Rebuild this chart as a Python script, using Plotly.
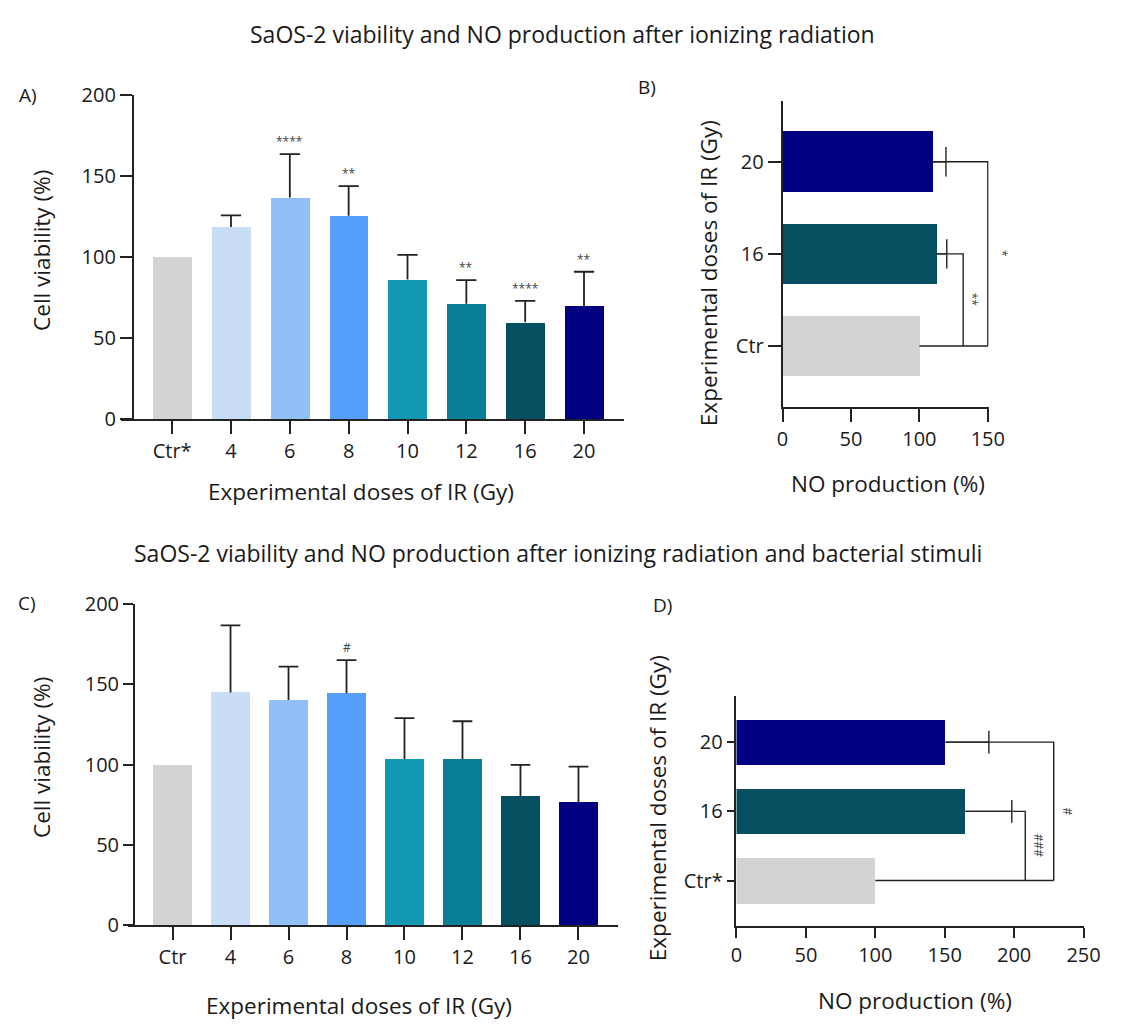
import plotly.graph_objects as go

W, H = 1128, 1034

# ---------------- data ----------------
A_cats = ["Ctr*", "4", "6", "8", "10", "12", "16", "20"]
A_vals = [100, 118.5, 136.7, 125.5, 86.1, 71.1, 59.7, 69.7]
A_err = [0, 7.2, 26.7, 18.2, 15.2, 14.6, 13.2, 21.2]
A_sig = ["", "", "****", "**", "", "**", "****", "**"]

B_cats = ["Ctr", "16", "20"]
B_vals = [100, 112.5, 109.7]
B_err = [0, 7.5, 9.7]
B_bracket_pos = [0, 132, 150]      # bracket x for (Ctr, 16 vs Ctr, 20 vs Ctr)
B_sig = ["", "**", "*"]

C_cats = ["Ctr", "4", "6", "8", "10", "12", "16", "20"]
C_vals = [99.5, 144.9, 140.2, 144.5, 103.5, 103.5, 80.1, 76.4]
C_err = [0, 41.9, 20.9, 20.6, 25.4, 23.5, 19.7, 22.3]
C_sig = ["", "", "", "#", "", "", "", ""]

D_cats = ["Ctr*", "16", "20"]
D_vals = [100, 164.9, 150.5]
D_err = [0, 33.4, 31.3]
D_bracket_pos = [0, 208, 228.5]
D_sig = ["", "###", "#"]

COL8 = ["#d3d3d3", "#c9ddf7", "#93bff9", "#56a0fc", "#1199b3", "#087f96", "#064f61", "#020080"]
COL3 = ["#d3d3d3", "#064f61", "#020080"]

FONT = "Open Sans"
TXT = "#1a1a1a"
LINE = "#222222"


def fx(px):
    return px / W


def fy(py):
    return 1 - py / H


fig = go.Figure()


def vbars(vals, errs, cols, xa, ya, cap):
    n = len(vals)
    fig.add_trace(go.Bar(x=list(range(n)), y=vals, width=0.66, marker=dict(color=cols, line=dict(width=0)),
                         xaxis=xa, yaxis=ya, showlegend=False))
    ex, ey = [], []
    for i, (v, e) in enumerate(zip(vals, errs)):
        if e > 0:
            ex += [i, i, None, i - cap, i + cap, None]
            ey += [v, v + e, None, v + e, v + e, None]
    fig.add_trace(go.Scatter(x=ex, y=ey, mode="lines", line=dict(color=LINE, width=1.8),
                             xaxis=xa, yaxis=ya, showlegend=False, hoverinfo="skip"))


def hbars(vals, errs, cols, xa, ya, cap, brackets):
    n = len(vals)
    fig.add_trace(go.Bar(y=list(range(n)), x=vals, width=0.66, orientation="h",
                         marker=dict(color=cols, line=dict(width=0)),
                         xaxis=xa, yaxis=ya, showlegend=False))
    ex, ey = [], []
    for i, (v, e) in enumerate(zip(vals, errs)):
        if e > 0:
            ex += [v, v + e, None, v + e, v + e, None]
            ey += [i, i, None, i - cap, i + cap, None]
    fig.add_trace(go.Scatter(x=ex, y=ey, mode="lines", line=dict(color=LINE, width=1.4),
                             xaxis=xa, yaxis=ya, showlegend=False, hoverinfo="skip"))
    bx, by = [], []
    for i in range(1, n):
        bx += [vals[i], brackets[i], brackets[i], None]
        by += [i, i, 0, None]
    bx += [vals[0], max(brackets)]
    by += [0, 0]
    fig.add_trace(go.Scatter(x=bx, y=by, mode="lines", line=dict(color=LINE, width=1.4),
                             xaxis=xa, yaxis=ya, showlegend=False, hoverinfo="skip"))


vbars(A_vals, A_err, COL8, "x", "y", 0.172)
hbars(B_vals, B_err, COL3, "x2", "y2", 0.16, B_bracket_pos)
vbars(C_vals, C_err, COL8, "x3", "y3", 0.17)
hbars(D_vals, D_err, COL3, "x4", "y4", 0.165, D_bracket_pos)

ax_common = dict(showline=True, linewidth=1.6, linecolor=LINE, ticks="outside", tickwidth=1.6,
                 tickcolor=LINE, showgrid=False, zeroline=False,
                 tickfont=dict(family=FONT, size=20, color=TXT))

fig.update_layout(
    width=W, height=H, margin=dict(l=0, r=0, t=0, b=0),
    paper_bgcolor="white", plot_bgcolor="white", bargap=0,
    font=dict(family=FONT, color=TXT),
    xaxis=dict(domain=[fx(117), fx(630.7)], range=[-0.876, 7.677], anchor="y",
               tickvals=list(range(len(A_cats))), ticktext=A_cats, ticklen=13, **ax_common),
    yaxis=dict(domain=[fy(416), fy(83)], range=[0, 200], anchor="free", position=fx(129.3),
               tickvals=[0, 50, 100, 150, 200], ticklen=12, **ax_common),
    xaxis2=dict(domain=[fx(792.7), fx(1003.1)], range=[0, 150.6], anchor="y2",
                tickvals=[0, 50, 100, 150], ticklen=13, **ax_common),
    yaxis2=dict(domain=[fy(403.3), fy(89.3)], range=[-0.66, 2.66], anchor="x2",
                tickvals=list(range(len(B_cats))), ticktext=B_cats, ticklen=13, **ax_common),
    xaxis3=dict(domain=[fx(124.6), fx(625)], range=[-0.767, 7.686], anchor="y3",
                tickvals=list(range(len(C_cats))), ticktext=C_cats, ticklen=13, **ax_common),
    yaxis3=dict(domain=[fy(935.3), fy(606)], range=[0, 200], anchor="free", position=fx(130.5),
                tickvals=[0, 50, 100, 150, 200], ticklen=10, **ax_common),
    xaxis4=dict(domain=[fx(745.7), fx(1100)], range=[0, 250], anchor="y4",
                tickvals=[0, 50, 100, 150, 200, 250], ticklen=10, **ax_common),
    yaxis4=dict(domain=[fy(936.7), fy(700)], range=[-0.66, 2.67], anchor="x4",
                tickvals=list(range(len(D_cats))), ticktext=D_cats, ticklen=8, **ax_common),
)

ann = []


def txt(text, x, y, size, angle=0, **kw):
    d = dict(text=text, x=fx(x), y=fy(y), xref="paper", yref="paper", showarrow=False,
             font=dict(family=FONT, size=size, color=TXT), textangle=angle,
             xanchor="center", yanchor="middle")
    d.update(kw)
    ann.append(d)


txt("SaOS-2 viability and NO production after ionizing radiation", 568, 21, 23)
txt("SaOS-2 viability and NO production after ionizing radiation and bacterial stimuli", 563, 553, 23)
txt("A)", 22, 83, 19)
txt("B)", 654, 75, 19)
txt("C)", 21, 605, 19)
txt("D)", 670, 607, 19)
txt("Cell viability (%)", 36, 243, 22.5, -90)
txt("Experimental doses of IR (Gy)", 362, 490, 22.5)
txt("Experimental doses of IR (Gy)", 716.7, 266, 22.5, -90)
txt("NO production (%)", 900.5, 482, 22.5)
txt("Cell viability (%)", 35.6, 763, 22.5, -90)
txt("Experimental doses of IR (Gy)", 360, 1018, 22.5)
txt("Experimental doses of IR (Gy)", 665, 815, 22.5, -90)
txt("NO production (%)", 928, 1013, 22.5)

# significance marks on vertical panels
for sigs, vals, errs, xa, ya in [(A_sig, A_vals, A_err, "x", "y"), (C_sig, C_vals, C_err, "x3", "y3")]:
    for i, s in enumerate(sigs):
        if s:
            ann.append(dict(text=s, x=i, y=vals[i] + errs[i], xref=xa, yref=ya, showarrow=False,
                            yanchor="bottom", yshift=2, font=dict(family=FONT, size=12, color="#444")))

# significance marks on brackets (horizontal panels)
for sigs, pos, xa, ya, shifts in [(B_sig, B_bracket_pos, "x2", "y2", [0, 9, 14]),
                                  (D_sig, D_bracket_pos, "x4", "y4", [0, 13, 14])]:
    for i, s in enumerate(sigs):
        if s:
            ann.append(dict(text=s, x=pos[i], y=i / 2, xref=xa, yref=ya, showarrow=False,
                            xshift=shifts[i], textangle=90,
                            font=dict(family=FONT, size=12, color="#444")))

fig.update_layout(annotations=ann)
fig.write_html("out.html")
